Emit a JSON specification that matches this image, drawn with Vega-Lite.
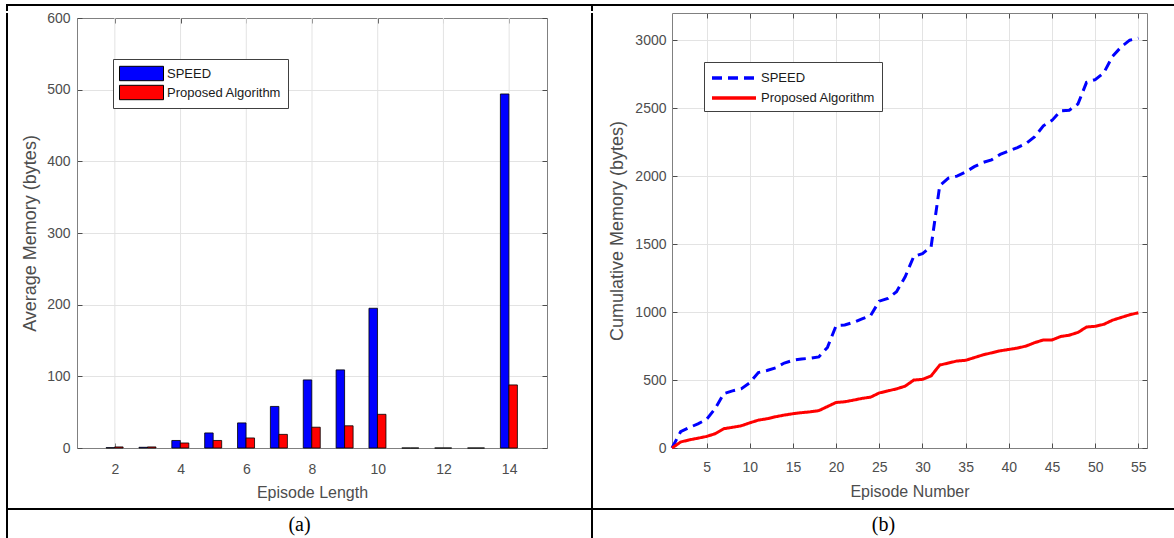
{
"$schema": "https://vega.github.io/schema/vega-lite/v6.json",
"padding": {"left": 6, "top": 4, "right": 0, "bottom": 0},
"background": "white",
"spacing": 0,
"datasets": {
"bars": [
{"len":2,"series":"SPEED","mem":0.5},{"len":3,"series":"SPEED","mem":1},{"len":4,"series":"SPEED","mem":10.5},{"len":5,"series":"SPEED","mem":21},{"len":6,"series":"SPEED","mem":35},{"len":7,"series":"SPEED","mem":58},{"len":8,"series":"SPEED","mem":95},{"len":9,"series":"SPEED","mem":109},{"len":10,"series":"SPEED","mem":195},{"len":11,"series":"SPEED","mem":0},{"len":12,"series":"SPEED","mem":0},{"len":13,"series":"SPEED","mem":0},{"len":14,"series":"SPEED","mem":494},
{"len":2,"series":"Proposed Algorithm","mem":1.5},{"len":3,"series":"Proposed Algorithm","mem":1.5},{"len":4,"series":"Proposed Algorithm","mem":7},{"len":5,"series":"Proposed Algorithm","mem":10.5},{"len":6,"series":"Proposed Algorithm","mem":14},{"len":7,"series":"Proposed Algorithm","mem":19},{"len":8,"series":"Proposed Algorithm","mem":29},{"len":9,"series":"Proposed Algorithm","mem":31},{"len":10,"series":"Proposed Algorithm","mem":47},{"len":11,"series":"Proposed Algorithm","mem":0},{"len":12,"series":"Proposed Algorithm","mem":0},{"len":13,"series":"Proposed Algorithm","mem":0},{"len":14,"series":"Proposed Algorithm","mem":88}
],
"lines": [
{"ep":1,"series":"SPEED","mem":0},{"ep":2,"series":"SPEED","mem":120},{"ep":3,"series":"SPEED","mem":150},{"ep":4,"series":"SPEED","mem":178},{"ep":5,"series":"SPEED","mem":210},{"ep":6,"series":"SPEED","mem":290},{"ep":7,"series":"SPEED","mem":400},{"ep":8,"series":"SPEED","mem":420},{"ep":9,"series":"SPEED","mem":435},{"ep":10,"series":"SPEED","mem":480},{"ep":11,"series":"SPEED","mem":555},{"ep":12,"series":"SPEED","mem":570},{"ep":13,"series":"SPEED","mem":590},{"ep":14,"series":"SPEED","mem":625},{"ep":15,"series":"SPEED","mem":645},{"ep":16,"series":"SPEED","mem":655},{"ep":17,"series":"SPEED","mem":660},{"ep":18,"series":"SPEED","mem":670},{"ep":19,"series":"SPEED","mem":740},{"ep":20,"series":"SPEED","mem":900},{"ep":21,"series":"SPEED","mem":905},{"ep":22,"series":"SPEED","mem":924},{"ep":23,"series":"SPEED","mem":950},{"ep":24,"series":"SPEED","mem":975},{"ep":25,"series":"SPEED","mem":1080},{"ep":26,"series":"SPEED","mem":1100},{"ep":27,"series":"SPEED","mem":1150},{"ep":28,"series":"SPEED","mem":1260},{"ep":29,"series":"SPEED","mem":1410},{"ep":30,"series":"SPEED","mem":1430},{"ep":31,"series":"SPEED","mem":1480},{"ep":32,"series":"SPEED","mem":1930},{"ep":33,"series":"SPEED","mem":1985},{"ep":34,"series":"SPEED","mem":2000},{"ep":35,"series":"SPEED","mem":2030},{"ep":36,"series":"SPEED","mem":2070},{"ep":37,"series":"SPEED","mem":2100},{"ep":38,"series":"SPEED","mem":2120},{"ep":39,"series":"SPEED","mem":2160},{"ep":40,"series":"SPEED","mem":2185},{"ep":41,"series":"SPEED","mem":2210},{"ep":42,"series":"SPEED","mem":2240},{"ep":43,"series":"SPEED","mem":2290},{"ep":44,"series":"SPEED","mem":2370},{"ep":45,"series":"SPEED","mem":2410},{"ep":46,"series":"SPEED","mem":2480},{"ep":47,"series":"SPEED","mem":2485},{"ep":48,"series":"SPEED","mem":2530},{"ep":49,"series":"SPEED","mem":2690},{"ep":50,"series":"SPEED","mem":2710},{"ep":51,"series":"SPEED","mem":2760},{"ep":52,"series":"SPEED","mem":2880},{"ep":53,"series":"SPEED","mem":2950},{"ep":54,"series":"SPEED","mem":3000},{"ep":55,"series":"SPEED","mem":3015},
{"ep":1,"series":"Proposed Algorithm","mem":0},{"ep":2,"series":"Proposed Algorithm","mem":44},{"ep":3,"series":"Proposed Algorithm","mem":60},{"ep":4,"series":"Proposed Algorithm","mem":72},{"ep":5,"series":"Proposed Algorithm","mem":85},{"ep":6,"series":"Proposed Algorithm","mem":105},{"ep":7,"series":"Proposed Algorithm","mem":142},{"ep":8,"series":"Proposed Algorithm","mem":152},{"ep":9,"series":"Proposed Algorithm","mem":163},{"ep":10,"series":"Proposed Algorithm","mem":185},{"ep":11,"series":"Proposed Algorithm","mem":205},{"ep":12,"series":"Proposed Algorithm","mem":215},{"ep":13,"series":"Proposed Algorithm","mem":230},{"ep":14,"series":"Proposed Algorithm","mem":242},{"ep":15,"series":"Proposed Algorithm","mem":252},{"ep":16,"series":"Proposed Algorithm","mem":260},{"ep":17,"series":"Proposed Algorithm","mem":266},{"ep":18,"series":"Proposed Algorithm","mem":275},{"ep":19,"series":"Proposed Algorithm","mem":305},{"ep":20,"series":"Proposed Algorithm","mem":335},{"ep":21,"series":"Proposed Algorithm","mem":340},{"ep":22,"series":"Proposed Algorithm","mem":352},{"ep":23,"series":"Proposed Algorithm","mem":365},{"ep":24,"series":"Proposed Algorithm","mem":374},{"ep":25,"series":"Proposed Algorithm","mem":405},{"ep":26,"series":"Proposed Algorithm","mem":420},{"ep":27,"series":"Proposed Algorithm","mem":435},{"ep":28,"series":"Proposed Algorithm","mem":455},{"ep":29,"series":"Proposed Algorithm","mem":500},{"ep":30,"series":"Proposed Algorithm","mem":505},{"ep":31,"series":"Proposed Algorithm","mem":530},{"ep":32,"series":"Proposed Algorithm","mem":610},{"ep":33,"series":"Proposed Algorithm","mem":625},{"ep":34,"series":"Proposed Algorithm","mem":640},{"ep":35,"series":"Proposed Algorithm","mem":645},{"ep":36,"series":"Proposed Algorithm","mem":665},{"ep":37,"series":"Proposed Algorithm","mem":685},{"ep":38,"series":"Proposed Algorithm","mem":700},{"ep":39,"series":"Proposed Algorithm","mem":715},{"ep":40,"series":"Proposed Algorithm","mem":725},{"ep":41,"series":"Proposed Algorithm","mem":735},{"ep":42,"series":"Proposed Algorithm","mem":750},{"ep":43,"series":"Proposed Algorithm","mem":775},{"ep":44,"series":"Proposed Algorithm","mem":795},{"ep":45,"series":"Proposed Algorithm","mem":795},{"ep":46,"series":"Proposed Algorithm","mem":820},{"ep":47,"series":"Proposed Algorithm","mem":830},{"ep":48,"series":"Proposed Algorithm","mem":850},{"ep":49,"series":"Proposed Algorithm","mem":890},{"ep":50,"series":"Proposed Algorithm","mem":895},{"ep":51,"series":"Proposed Algorithm","mem":910},{"ep":52,"series":"Proposed Algorithm","mem":940},{"ep":53,"series":"Proposed Algorithm","mem":960},{"ep":54,"series":"Proposed Algorithm","mem":980},{"ep":55,"series":"Proposed Algorithm","mem":995}
]
},
"config": {
"view": {"stroke": null},
"font": "Liberation Sans",
"axis": {"labelFont": "Liberation Sans", "titleFont": "Liberation Sans", "labelFontSize": 14, "titleFontSize": 16, "titleFontWeight": "normal", "labelColor": "#4d4d4d", "titleColor": "#4d4d4d", "domainColor": "#808080", "tickColor": "#4d4d4d", "tickSize": -5, "gridColor": "#e3e3e3", "gridWidth": 1, "format": "d"},
"axisLeft": {"titleFontSize": 18},
"legend": {"labelFont": "Liberation Sans", "labelFontSize": 13, "labelColor": "#1a1a1a", "strokeColor": "#404040", "fillColor": "white", "padding": 6, "orient": "none", "title": null}
},
"vconcat": [
{"width": 1168, "height": 2, "data": {"values": []}, "mark": "point", "view": {"fill": "black"}},
{"spacing": 0, "bounds": "flush", "hconcat": [
 {"width": 2, "height": 5, "data": {"values": []}, "mark": "point", "view": {"fill": "black"}},
 {"width": 583, "height": 5, "data": {"values": []}, "mark": "point"},
 {"width": 2, "height": 5, "data": {"values": []}, "mark": "point", "view": {"fill": "black"}},
 {"width": 581, "height": 5, "data": {"values": []}, "mark": "point"}
]},
{"spacing": 0, "bounds": "flush",
 "resolve": {"scale": {"color": "independent", "strokeDash": "independent"}, "legend": {"color": "independent", "strokeDash": "independent"}},
 "hconcat": [
 {"width": 2, "height": 495, "data": {"values": []}, "mark": "point", "view": {"fill": "black"}},
 {"width": 69, "height": 495, "data": {"values": []}, "mark": "point"},
 {"width": 470, "height": 435,
  "layer": [
   {"data": {"values": [{"g": 2}, {"g": 4}, {"g": 6}, {"g": 8}, {"g": 10}, {"g": 12}, {"g": 14}]},
    "mark": {"type": "rule", "color": "#e3e3e3", "strokeWidth": 1},
    "encoding": {
     "x": {"field": "g", "type": "quantitative", "scale": {"domain": [1, 15], "nice": false, "zero": false}, "axis": null},
     "y": {"datum": 0, "type": "quantitative", "scale": {"domain": [0, 600], "nice": false, "range": [435, 5]}, "axis": null},
     "y2": {"datum": 600}
    }},
   {"data": {"name": "bars"},
    "transform": [{"filter": "datum.series === 'SPEED'"}],
    "mark": {"type": "bar", "width": 8.5, "xOffset": -4.5, "stroke": "black", "strokeWidth": 0.8},
    "encoding": {
     "x": {"field": "len", "type": "quantitative", "scale": {"domain": [1, 15], "nice": false, "zero": false}, "axis": {"orient": "bottom", "values": [2,4,6,8,10,12,14], "grid": false, "title": "Episode Length", "labelPadding": 19, "titlePadding": 8}},
     "y": {"field": "mem", "type": "quantitative", "scale": {"domain": [0, 600], "nice": false, "range": [435, 5]}, "axis": {"orient": "left", "values": [0,100,200,300,400,500,600], "grid": true, "title": "Average Memory (bytes)", "labelPadding": 12, "titlePadding": 7}},
     "color": {"field": "series", "type": "nominal", "scale": {"domain": ["SPEED", "Proposed Algorithm"], "range": ["#0000ff", "#ff0000"]}, "legend": {"legendX": 36, "legendY": 46, "symbolType": "M-1,-0.9H4.5V0.9H-1Z", "symbolSize": 256, "symbolStrokeColor": "black", "symbolStrokeWidth": 1, "symbolOpacity": 1, "rowPadding": 0, "labelOffset": 31}}
    }},
   {"data": {"name": "bars"},
    "transform": [{"filter": "datum.series === 'Proposed Algorithm'"}],
    "mark": {"type": "bar", "width": 8.5, "xOffset": 4, "stroke": "black", "strokeWidth": 0.8},
    "encoding": {
     "x": {"field": "len", "type": "quantitative", "scale": {"domain": [1, 15], "nice": false, "zero": false}, "axis": {"orient": "top", "offset": -5, "values": [2,4,6,8,10,12,14], "grid": false, "labels": false, "title": null}},
     "y": {"field": "mem", "type": "quantitative", "scale": {"domain": [0, 600], "nice": false, "range": [435, 5]}, "axis": {"orient": "right", "values": [0,100,200,300,400,500,600], "grid": false, "labels": false, "title": null}},
     "color": {"field": "series", "type": "nominal", "scale": {"domain": ["SPEED", "Proposed Algorithm"], "range": ["#0000ff", "#ff0000"]}, "legend": {"legendX": 36, "legendY": 46, "symbolType": "M-1,-0.9H4.5V0.9H-1Z", "symbolSize": 256, "symbolStrokeColor": "black", "symbolStrokeWidth": 1, "symbolOpacity": 1, "rowPadding": 0, "labelOffset": 31}}
    }}
  ],
  "resolve": {"axis": {"x": "independent", "y": "independent"}}
 },
 {"width": 44, "height": 495, "data": {"values": []}, "mark": "point"},
 {"width": 2, "height": 495, "data": {"values": []}, "mark": "point", "view": {"fill": "black"}},
 {"width": 79, "height": 495, "data": {"values": []}, "mark": "point"},
 {"width": 475, "height": 435,
  "data": {"name": "lines"},
  "layer": [
   {"mark": {"type": "line", "strokeWidth": 3, "strokeCap": "butt"},
    "encoding": {
     "x": {"field": "ep", "type": "quantitative", "scale": {"domain": [1, 56], "nice": false, "zero": false}, "axis": {"orient": "bottom", "values": [5,10,15,20,25,30,35,40,45,50,55], "grid": true, "title": "Episode Number", "labelPadding": 17, "titlePadding": 9}},
     "y": {"field": "mem", "type": "quantitative", "scale": {"domain": [0, 3200], "nice": false}, "axis": {"orient": "left", "values": [0,500,1000,1500,2000,2500,3000], "grid": true, "title": "Cumulative Memory (bytes)", "labelPadding": 11, "titlePadding": 8}},
     "color": {"field": "series", "type": "nominal", "scale": {"domain": ["SPEED", "Proposed Algorithm"], "range": ["#0000ff", "#ff0000"]}, "legend": {"legendX": 32, "legendY": 49, "symbolType": "M-1,0H4.5", "symbolSize": 256, "symbolStrokeWidth": 3.5, "symbolFillColor": "transparent", "rowPadding": 3, "labelOffset": 31}},
     "strokeDash": {"field": "series", "type": "nominal", "scale": {"domain": ["SPEED", "Proposed Algorithm"], "range": [[10, 6], [1, 0]]}, "legend": {"legendX": 32, "legendY": 49, "symbolType": "M-1,0H4.5", "symbolSize": 256, "symbolStrokeWidth": 3.5, "symbolFillColor": "transparent", "rowPadding": 3, "labelOffset": 31}}
    }},
   {"mark": {"type": "line", "opacity": 0},
    "encoding": {
     "x": {"field": "ep", "type": "quantitative", "scale": {"domain": [1, 56], "nice": false, "zero": false}, "axis": {"orient": "top", "values": [5,10,15,20,25,30,35,40,45,50,55], "grid": false, "labels": false, "title": null}},
     "y": {"field": "mem", "type": "quantitative", "scale": {"domain": [0, 3200], "nice": false}, "axis": {"orient": "right", "values": [0,500,1000,1500,2000,2500,3000], "grid": false, "labels": false, "title": null}},
     "detail": {"field": "series", "type": "nominal"}
    }}
  ],
  "resolve": {"axis": {"x": "independent", "y": "independent"}}
 },
 {"width": 27, "height": 495, "data": {"values": []}, "mark": "point"}
]},
{"width": 1168, "height": 2, "data": {"values": []}, "mark": "point", "view": {"fill": "black"}},
{"spacing": 0, "bounds": "flush", "hconcat": [
 {"width": 2, "height": 30, "data": {"values": []}, "mark": "point", "view": {"fill": "black"}},
 {"width": 583, "height": 30, "data": {"values": [{"cap": "(a)"}]}, "mark": {"type": "text", "font": "Liberation Serif", "fontSize": 20, "color": "black", "baseline": "middle", "align": "center"}, "encoding": {"text": {"field": "cap", "type": "nominal"}}},
 {"width": 2, "height": 30, "data": {"values": []}, "mark": "point", "view": {"fill": "black"}},
 {"width": 581, "height": 30, "data": {"values": [{"cap": "(b)"}]}, "mark": {"type": "text", "font": "Liberation Serif", "fontSize": 20, "color": "black", "baseline": "middle", "align": "center"}, "encoding": {"text": {"field": "cap", "type": "nominal"}}}
]}
]
}
